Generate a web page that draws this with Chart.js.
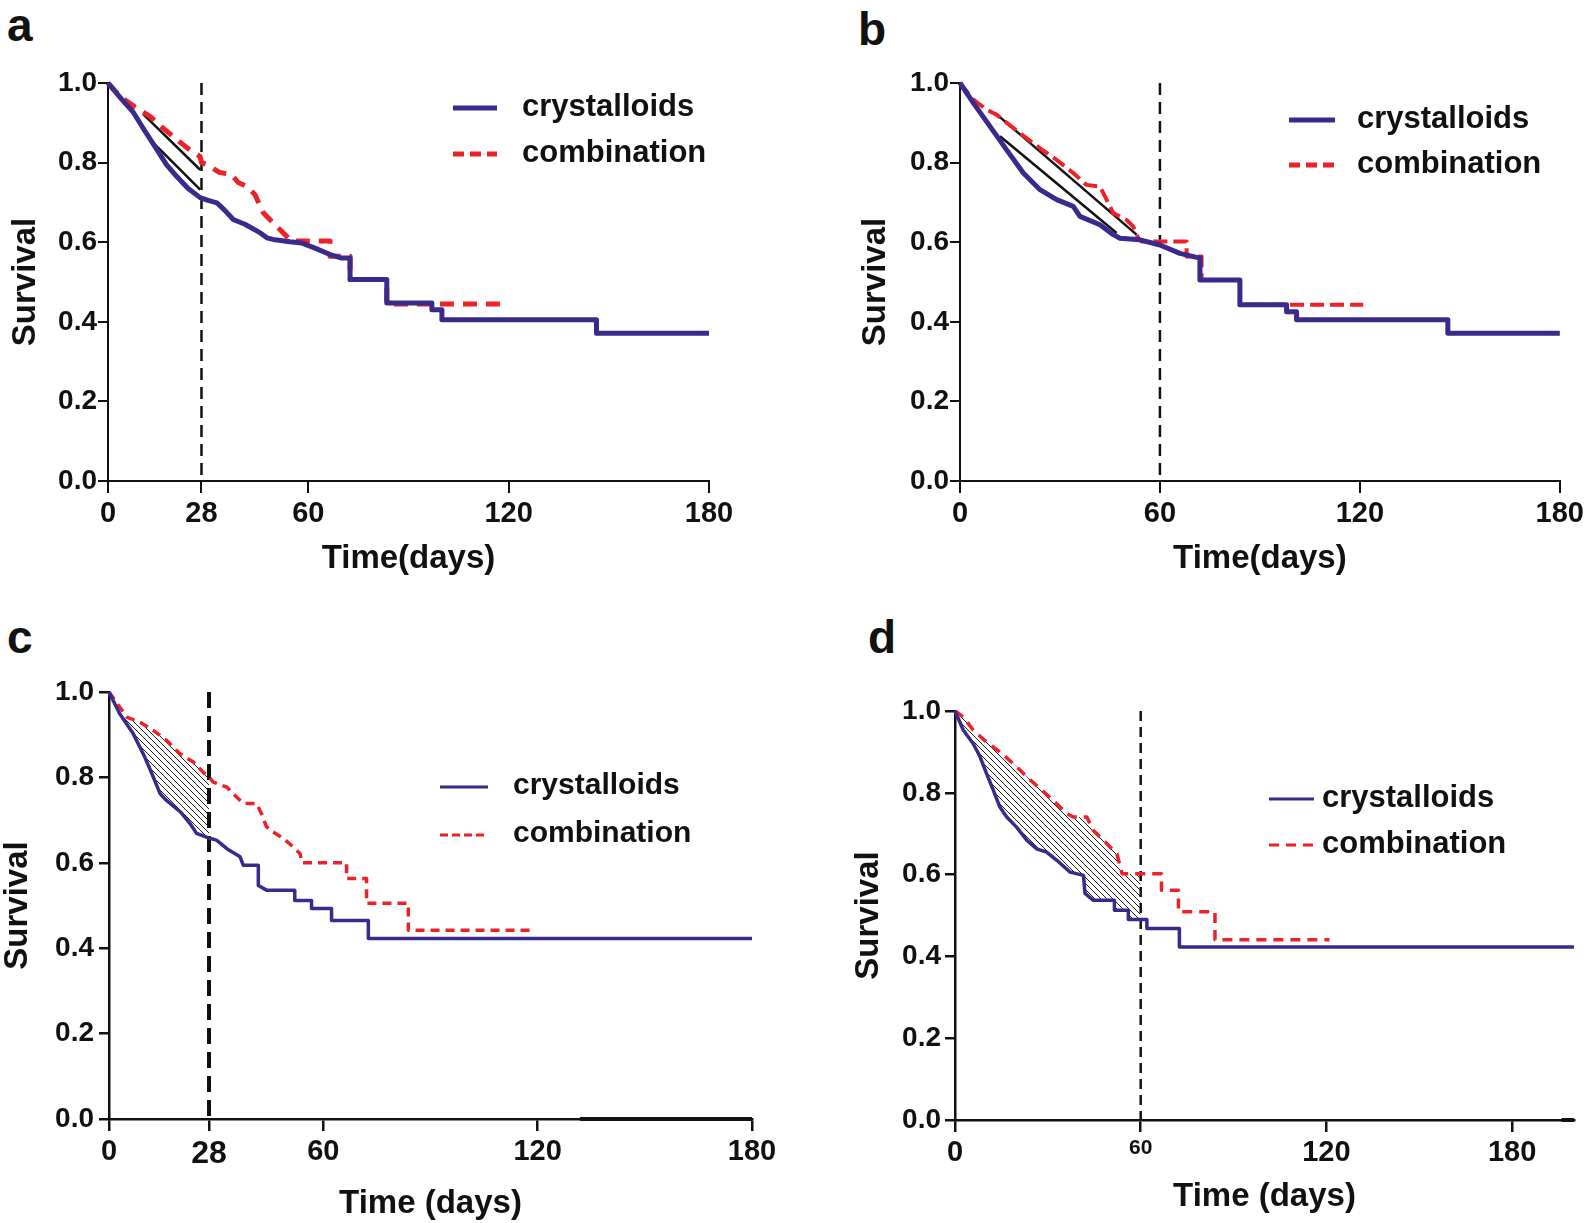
<!DOCTYPE html>
<html lang="en">
<head>
<meta charset="UTF-8">
<title>Survival curves</title>
<script src="https://cdn.jsdelivr.net/npm/chart.js"></script>
<style>
  html, body { margin: 0; padding: 0; background: #fff; }
  body { width: 1588px; height: 1223px; position: relative; overflow: hidden; }
  canvas { position: absolute; }
  .tag { position: absolute; font: bold 46px 'Liberation Sans', Arial, sans-serif; line-height: 46px; color: #111; }
</style>
</head>
<body>
<div class="tag" style="left:7px;top:2px">a</div>
<div class="tag" style="left:858px;top:6px">b</div>
<div class="tag" style="left:7px;top:614px">c</div>
<div class="tag" style="left:868px;top:614px">d</div>

<canvas id="chartA" width="760" height="560" style="left:0;top:30px"></canvas>
<canvas id="chartB" width="738" height="560" style="left:850px;top:30px"></canvas>
<canvas id="chartC" width="800" height="593" style="left:0;top:630px"></canvas>
<canvas id="chartD" width="738" height="593" style="left:850px;top:630px"></canvas>

<script>
// ---- data (days, survival) ----
const seriesNames = ['crystalloids', 'combination'];
const yTicks = [0, 0.2, 0.4, 0.6, 0.8, 1.0];

// panel a
const aXTicks = [0, 28, 60, 120, 180];
const aCrysDay  = [0, 4, 7.6, 11, 14.6, 17.5, 20.6, 24, 27.6, 30, 32.6, 35, 37.5, 41, 45.5, 47.6, 50, 54.5, 58, 62, 66.5, 70, 72.5, 72.5, 83.5, 83.5, 97, 97, 100, 100, 146.3, 146.3, 180];
const aCrysSurv = [1, 0.96, 0.926, 0.88, 0.833, 0.795, 0.765, 0.735, 0.712, 0.705, 0.699, 0.68, 0.657, 0.645, 0.624, 0.611, 0.606, 0.601, 0.598, 0.585, 0.569, 0.56, 0.56, 0.506, 0.506, 0.447, 0.447, 0.43, 0.43, 0.405, 0.405, 0.371, 0.371];
const aCombDay  = [0, 3.6, 8, 12.6, 16, 20.6, 24, 27.6, 28, 29.6, 33.5, 37, 39, 41.6, 44, 46.5, 50.5, 53.6, 55, 66.5, 66.5, 72.5, 72.5, 83.5, 83.5, 119.4];
const aCombSurv = [1, 0.966, 0.94, 0.916, 0.89, 0.858, 0.835, 0.815, 0.8, 0.795, 0.775, 0.77, 0.75, 0.74, 0.72, 0.674, 0.64, 0.614, 0.603, 0.603, 0.565, 0.565, 0.506, 0.506, 0.445, 0.445];
const aCutDay = 28;
const aGuideDay  = [[10.6, 27.6], [12.6, 27.6]];
const aGuideSurv = [[0.921, 0.782], [0.858, 0.732]];

// panel b
const bXTicks = [0, 60, 120, 180];
const bCrysDay  = [0, 4, 9, 14, 19, 24, 29, 34, 36, 42, 46, 48, 54, 60, 66, 72, 72, 84, 84, 98, 98, 101, 101, 146.4, 146.4, 180];
const bCrysSurv = [1, 0.95, 0.891, 0.832, 0.774, 0.732, 0.707, 0.69, 0.665, 0.644, 0.619, 0.61, 0.606, 0.593, 0.572, 0.56, 0.505, 0.505, 0.443, 0.443, 0.425, 0.425, 0.405, 0.405, 0.371, 0.371];
const bCombDay  = [0, 4, 8, 11, 18, 24, 29, 34, 38, 42, 44, 46, 50, 52, 53.5, 54.5, 68, 68, 72.5, 72.5, 84, 84, 121];
const bCombSurv = [1, 0.958, 0.933, 0.92, 0.874, 0.836, 0.807, 0.774, 0.744, 0.74, 0.707, 0.673, 0.656, 0.639, 0.61, 0.602, 0.602, 0.564, 0.564, 0.505, 0.505, 0.443, 0.443];
const bCutDay = 60;
const bGuideDay  = [[10.5, 53], [12, 47]];
const bGuideSurv = [[0.925, 0.619], [0.866, 0.623]];

// panel c
const cXTicks = [0, 28, 60, 120, 180];
const cCrysDay  = [0, 3, 6.8, 9.6, 12, 14.3, 16.1, 20, 22.7, 24.5, 27.3, 28, 30.1, 33, 36.7, 37.6, 41.8, 41.8, 44.1, 52, 52, 56.7, 56.7, 62.3, 62.3, 72.6, 72.6, 180];
const cCrysSurv = [1, 0.949, 0.902, 0.855, 0.809, 0.762, 0.746, 0.719, 0.692, 0.669, 0.66, 0.658, 0.653, 0.633, 0.614, 0.594, 0.594, 0.547, 0.536, 0.536, 0.512, 0.512, 0.493, 0.493, 0.465, 0.465, 0.423, 0.423];
const cCombDay  = [0, 5, 8.7, 12.4, 16.1, 19.9, 23.6, 26.4, 28, 29.2, 33, 35.7, 37.6, 41.3, 42.7, 44.1, 46, 48.8, 51.6, 53.5, 54, 66.5, 66.5, 72.1, 72.1, 83.8, 83.8, 118.7];
const cCombSurv = [1, 0.941, 0.929, 0.91, 0.887, 0.855, 0.836, 0.812, 0.801, 0.789, 0.777, 0.754, 0.739, 0.739, 0.715, 0.684, 0.672, 0.657, 0.637, 0.621, 0.6, 0.6, 0.563, 0.563, 0.505, 0.505, 0.442, 0.442];
const cCutDay = 28;
const cAxisMarkDay = [131.8, 180];

// panel d
const dXTicks = [0, 60, 120, 180];
const dCrysDay  = [0, 2.7, 5.9, 8.1, 10.2, 12.4, 14.5, 16.7, 19.9, 23.2, 26.4, 29.6, 32.9, 37.2, 41.5, 42, 44.7, 51.5, 51.5, 56, 56, 60, 62, 62, 72.5, 72.5, 200];
const dCrysSurv = [1, 0.953, 0.92, 0.888, 0.847, 0.806, 0.765, 0.741, 0.716, 0.684, 0.663, 0.655, 0.635, 0.606, 0.598, 0.554, 0.537, 0.537, 0.513, 0.513, 0.49, 0.49, 0.49, 0.468, 0.468, 0.423, 0.423];
const dCombDay  = [0, 2.7, 5.9, 10.2, 14.5, 18.9, 23.2, 27.5, 31.8, 36.1, 38.2, 42.6, 44.7, 49, 52.3, 54, 60, 66.7, 66.7, 72.2, 72.2, 84, 84, 121];
const dCombSurv = [1, 0.985, 0.953, 0.924, 0.9, 0.871, 0.839, 0.81, 0.781, 0.749, 0.741, 0.741, 0.708, 0.676, 0.651, 0.602, 0.602, 0.602, 0.562, 0.562, 0.509, 0.509, 0.441, 0.441];
const dCutDay = 60;
const dAxisMarkDay = [196, 200];

// ---- styling ----
const BLUE = '#3b2a8c';
const RED = '#ec2227';
const INK = '#111';
const SANS = "'Liberation Sans', Arial, sans-serif";

const pts = (days, surv) => days.map((d, i) => ({x: d, y: surv[i]}));
const upTo = (days, surv, lim) => pts(days, surv).filter(p => p.x <= lim);

function hatchPattern() {
  const c = document.createElement('canvas');
  c.width = 6; c.height = 6;
  const g = c.getContext('2d');
  g.fillStyle = '#fff';
  g.fillRect(0, 0, 6, 6);
  g.strokeStyle = '#222';
  g.lineWidth = 1;
  g.beginPath();
  g.moveTo(-1, -1); g.lineTo(7, 7);
  g.moveTo(-4, 2); g.lineTo(4, 10);
  g.moveTo(2, -4); g.lineTo(10, 4);
  g.stroke();
  return g.createPattern(c, 'repeat');
}

// legend drawn inside the plot area, like the original figure
const kmLegend = {
  id: 'kmLegend',
  afterDraw(chart, args, o) {
    const ctx = chart.ctx;
    chart.data.datasets.filter(d => d.inLegend).forEach((ds, i) => {
      const y = o.y + i * o.gap;
      ctx.save();
      ctx.strokeStyle = ds.borderColor;
      ctx.lineWidth = o.lineWidth;
      ctx.setLineDash(i === 1 ? o.dash : []);
      ctx.beginPath();
      ctx.moveTo(o.x, y);
      ctx.lineTo(o.x + o.len, y);
      ctx.stroke();
      ctx.fillStyle = INK;
      ctx.font = 'bold ' + o.size + 'px ' + SANS;
      ctx.textBaseline = 'middle';
      ctx.fillText(ds.label, o.textX, y - 1);
      ctx.restore();
    });
  }
};

function makePanel(id, p) {
  const line = (extra) => Object.assign({pointRadius: 0, tension: 0, fill: false, borderJoinStyle: 'round', clip: false}, extra);
  const datasets = [
    line({label: seriesNames[0], inLegend: true, data: pts(p.crysDay, p.crysSurv), borderColor: BLUE, borderWidth: p.blueW}),
    line({label: seriesNames[1], inLegend: true, data: pts(p.combDay, p.combSurv), borderColor: RED, borderWidth: p.redW, borderDash: p.redDash}),
    line({label: 'cutoff', data: [{x: p.cut, y: 1}, {x: p.cut, y: 0}], borderColor: INK, borderWidth: p.cutW, borderDash: p.cutDash})
  ];
  (p.guideDay || []).forEach((g, i) => {
    datasets.push(line({label: 'guide' + i, data: pts(g, p.guideSurv[i]), borderColor: INK, borderWidth: 2.5}));
  });
  if (p.axisMark) {
    datasets.push(line({label: 'axismark', data: pts(p.axisMark, p.axisMark.map(() => 0)), borderColor: INK, borderWidth: 4}));
  }
  if (p.hatch) {
    const n = datasets.length;
    datasets.push(line({label: 'hatchTop', data: upTo(p.combDay, p.combSurv, p.cut), borderColor: 'transparent', borderWidth: 0, fill: n + 1, backgroundColor: hatchPattern()}));
    datasets.push(line({label: 'hatchBottom', data: upTo(p.crysDay, p.crysSurv, p.cut), borderColor: 'transparent', borderWidth: 0}));
  }

  new Chart(document.getElementById(id), {
    type: 'line',
    data: {datasets: datasets},
    plugins: [kmLegend],
    options: {
      responsive: false,
      animation: false,
      events: [],
      layout: {padding: {left: 0, top: p.padTop, right: p.padRight, bottom: 0}},
      plugins: {
        legend: {display: false},
        tooltip: {enabled: false},
        kmLegend: p.legend
      },
      scales: {
        x: {
          type: 'linear', min: 0, max: p.xMax,
          afterBuildTicks: s => { s.ticks = p.xTicks.map(v => ({value: v})); },
          afterFit: s => { s.height = p.xH; },
          ticks: {
            color: INK, padding: 4, autoSkip: false, maxRotation: 0,
            font: c => ({family: SANS, weight: 'bold', size: (p.tickSize && c.tick && p.tickSize[c.tick.value]) || 29})
          },
          grid: {drawOnChartArea: false, tickLength: 12, color: INK, lineWidth: p.axisW},
          border: {display: true, color: INK, width: p.axisW},
          title: {display: true, text: p.xTitle, color: INK, font: {family: SANS, size: 33, weight: 'bold', lineHeight: 1}, padding: {top: 0, bottom: p.xTitlePad}}
        },
        y: {
          min: 0, max: 1,
          afterBuildTicks: s => { s.ticks = yTicks.map(v => ({value: v})); },
          afterFit: s => { s.width = p.yW; },
          ticks: {color: INK, padding: p.yTickPad, callback: v => v.toFixed(1), font: {family: SANS, weight: 'bold', size: 28}},
          grid: {drawOnChartArea: false, tickLength: 10, color: INK, lineWidth: p.axisW},
          border: {display: true, color: INK, width: p.axisW},
          title: {display: true, text: 'Survival', color: INK, font: {family: SANS, size: 33, weight: 'bold', lineHeight: 1}, padding: {top: p.yTitlePad, bottom: 0}}
        }
      }
    }
  });
}

makePanel('chartA', {
  crysDay: aCrysDay, crysSurv: aCrysSurv, combDay: aCombDay, combSurv: aCombSurv,
  cut: aCutDay, guideDay: aGuideDay, guideSurv: aGuideSurv,
  xTicks: aXTicks, xMax: 180, xTitle: 'Time(days)',
  blueW: 5, redW: 5, redDash: [14, 9], cutW: 2.5, cutDash: [12, 7], axisW: 2,
  yW: 108, xH: 109, padTop: 53, padRight: 51, xTitlePad: 15, yTitlePad: 9, yTickPad: 1,
  legend: {x: 453, y: 78, gap: 46, len: 44, lineWidth: 5, dash: [11, 6], textX: 522, size: 31}
});

makePanel('chartB', {
  crysDay: bCrysDay, crysSurv: bCrysSurv, combDay: bCombDay, combSurv: bCombSurv,
  cut: bCutDay, guideDay: bGuideDay, guideSurv: bGuideSurv,
  xTicks: bXTicks, xMax: 180, xTitle: 'Time(days)',
  blueW: 5, redW: 4, redDash: [14, 6], cutW: 2.5, cutDash: [12, 7], axisW: 2,
  yW: 110, xH: 109, padTop: 53, padRight: 28, xTitlePad: 15, yTitlePad: 9, yTickPad: 1,
  legend: {x: 439, y: 90, gap: 45, len: 46, lineWidth: 5, dash: [11, 6], textX: 507, size: 31}
});

makePanel('chartC', {
  crysDay: cCrysDay, crysSurv: cCrysSurv, combDay: cCombDay, combSurv: cCombSurv,
  cut: cCutDay, axisMark: cAxisMarkDay, hatch: true,
  xTicks: cXTicks, xMax: 180, xTitle: 'Time (days)', tickSize: {28: 32},
  blueW: 3.5, redW: 3.5, redDash: [9, 6], cutW: 4, cutDash: [16, 8], axisW: 2.5,
  yW: 109, xH: 104, padTop: 62, padRight: 48, xTitlePad: 3, yTitlePad: 1, yTickPad: 5,
  legend: {x: 440, y: 157, gap: 48, len: 48, lineWidth: 3, dash: [8, 4], textX: 513, size: 30}
});

makePanel('chartD', {
  crysDay: dCrysDay, crysSurv: dCrysSurv, combDay: dCombDay, combSurv: dCombSurv,
  cut: dCutDay, axisMark: dAxisMarkDay, hatch: true,
  xTicks: dXTicks, xMax: 200, xTitle: 'Time (days)', tickSize: {60: 21},
  blueW: 3.5, redW: 3.5, redDash: [10, 7], cutW: 2.5, cutDash: [10, 6], axisW: 2.5,
  yW: 105, xH: 103, padTop: 81, padRight: 14, xTitlePad: 10, yTitlePad: 2, yTickPad: 4,
  legend: {x: 419, y: 169, gap: 46, len: 45, lineWidth: 3, dash: [10, 7], textX: 472, size: 31}
});
</script>
</body>
</html>
